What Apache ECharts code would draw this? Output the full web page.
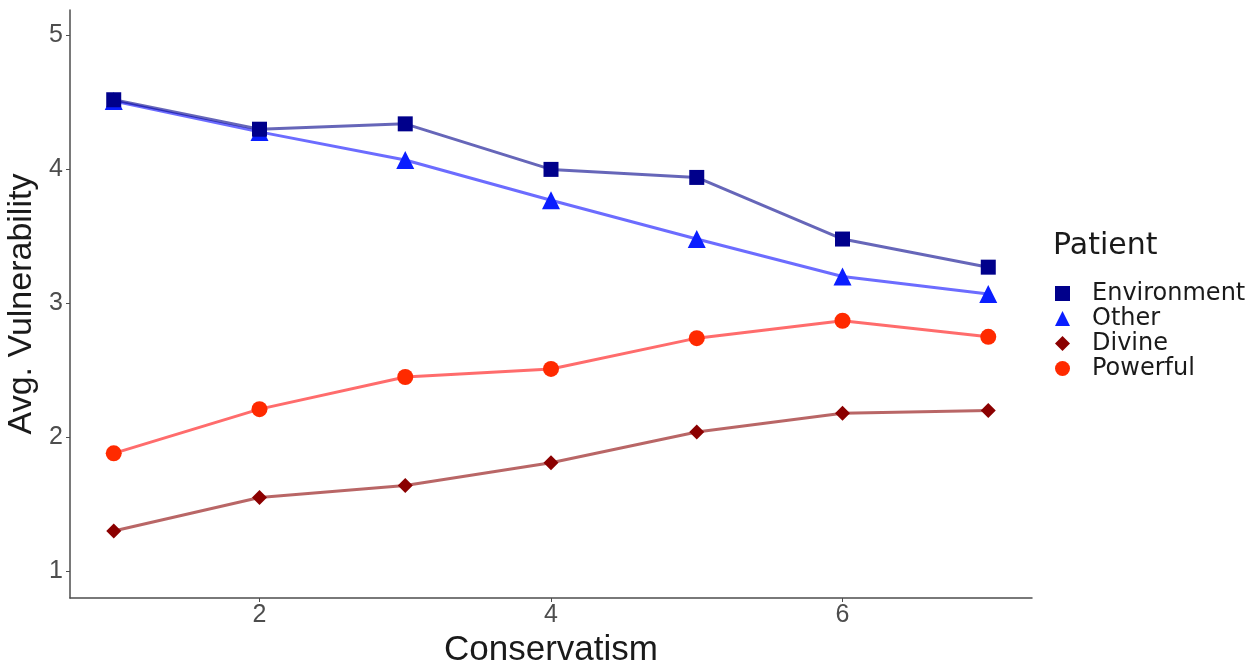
<!DOCTYPE html>
<html>
<head>
<meta charset="utf-8">
<script src="https://cdn.jsdelivr.net/npm/echarts@6/dist/echarts.min.js"></script>
<style>
  html, body { margin: 0; padding: 0; background: #fff; }
  #chart { width: 1260px; height: 663px; }
</style>
</head>
<body>
<div id="chart"></div>
<script>
// Conservatism levels (x) and average vulnerability per patient type
const conservatism = [1, 2, 3, 4, 5, 6, 7];
const environment = [4.52, 4.30, 4.34, 4.00, 3.94, 3.48, 3.27];
const other       = [4.51, 4.28, 4.07, 3.77, 3.48, 3.20, 3.07];
const divine      = [1.30, 1.55, 1.64, 1.81, 2.04, 2.18, 2.20];
const powerful    = [1.88, 2.21, 2.45, 2.51, 2.74, 2.87, 2.75];
const xTicks = [2, 4, 6];
const yTicks = [1, 2, 3, 4, 5];

const FONT = '"Liberation Sans", Arial, sans-serif';
const LEGEND_FONT = '"DejaVu Sans", sans-serif';
const pairs = arr => conservatism.map((x, i) => [x, arr[i]]);

function makeSeries(name, data, markColor, lineColor, symbol, size, z) {
  return {
    name: name,
    type: 'line',
    data: pairs(data),
    symbol: symbol,
    symbolSize: size,
    z: z,
    itemStyle: { color: markColor },
    lineStyle: { color: lineColor, width: 3, opacity: 0.6 },
    emphasis: { disabled: true },
    animation: false
  };
}

const chart = echarts.init(document.getElementById('chart'));
chart.setOption({
  backgroundColor: '#ffffff',
  textStyle: { fontFamily: FONT },
  grid: { left: 70, right: 228, top: 10, bottom: 65, containLabel: false, outerBoundsMode: 'none' },
  xAxis: {
    type: 'value',
    min: 0.7,
    max: 7.3,
    name: 'Conservatism',
    nameLocation: 'middle',
    nameGap: 26,
    nameTextStyle: { fontSize: 35, color: '#1a1a1a', fontFamily: FONT },
    axisLine: { show: true, lineStyle: { color: '#4d4d4d', width: 1.5 } },
    axisTick: { show: true, customValues: xTicks, length: 4, lineStyle: { color: '#4d4d4d' } },
    axisLabel: { customValues: xTicks, fontSize: 25, color: '#4d4d4d', margin: 5, fontFamily: FONT },
    splitLine: { show: false }
  },
  yAxis: {
    type: 'value',
    min: 0.8,
    max: 5.19,
    name: 'Avg. Vulnerability',
    nameLocation: 'middle',
    nameGap: 24,
    nameRotate: 90,
    nameTextStyle: { fontSize: 34, color: '#1a1a1a', fontFamily: FONT },
    axisLine: { show: true, lineStyle: { color: '#4d4d4d', width: 1.5 } },
    axisTick: { show: true, customValues: yTicks, length: 4, lineStyle: { color: '#4d4d4d' } },
    axisLabel: { customValues: yTicks, fontSize: 25, color: '#4d4d4d', margin: 7, fontFamily: FONT },
    splitLine: { show: false }
  },
  title: {
    text: 'Patient',
    left: 1048,
    top: 226,
    textStyle: { fontSize: 30, fontWeight: 'normal', color: '#1a1a1a', fontFamily: LEGEND_FONT }
  },
  legend: {
    orient: 'vertical',
    left: 1050,
    top: 276,
    itemWidth: 15,
    itemHeight: 15,
    itemGap: 0,
    selectedMode: false,
    textStyle: { fontSize: 24, lineHeight: 25, color: '#1a1a1a', fontFamily: LEGEND_FONT, padding: [0, 0, 0, 17] },
    data: [
      { name: 'Environment', icon: 'rect', itemStyle: { color: '#00008b' } },
      { name: 'Other', icon: 'triangle', itemStyle: { color: '#0a1eff' } },
      { name: 'Divine', icon: 'diamond', itemStyle: { color: '#8b0000' } },
      { name: 'Powerful', icon: 'circle', itemStyle: { color: '#ff2a00' } }
    ]
  },
  series: [
    makeSeries('Divine', divine, '#8b0000', '#8b0000', 'diamond', 15, 2),
    makeSeries('Powerful', powerful, '#ff2a00', '#ff0a0a', 'circle', 16, 3),
    makeSeries('Other', other, '#0a1eff', '#0a0aff', 'triangle', 18, 4),
    makeSeries('Environment', environment, '#00008b', '#00008b', 'rect', 15, 5)
  ]
});
</script>
</body>
</html>
